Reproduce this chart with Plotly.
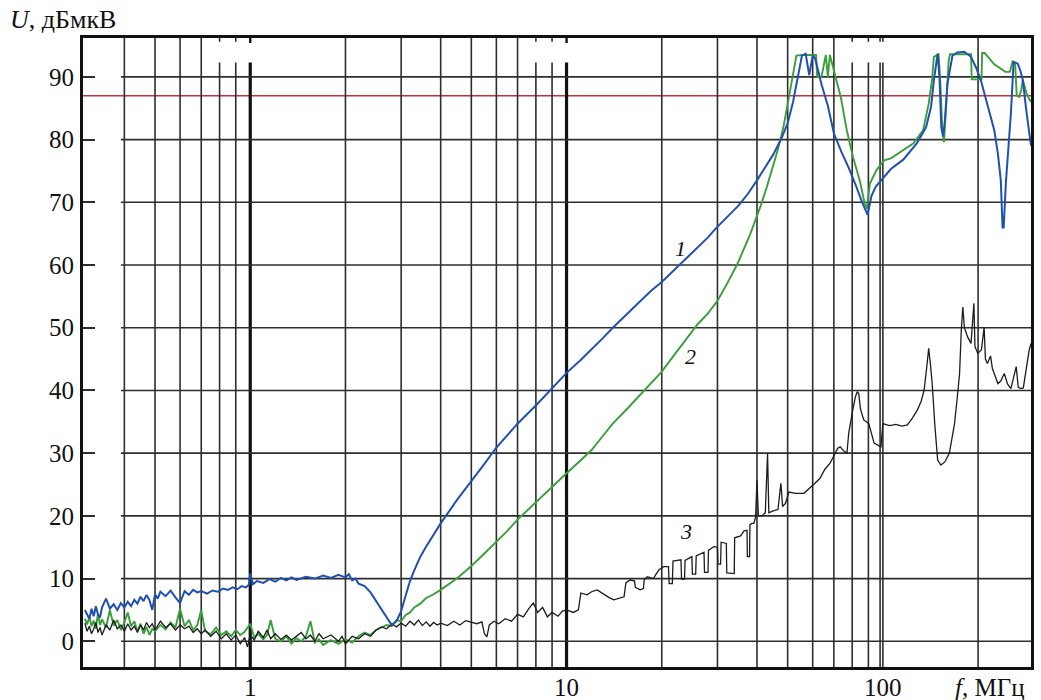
import math
import plotly.graph_objects as go

# ---- measured series: frequency, MHz / level, dBµV ----
f1 = [0.30, 0.305, 0.31, 0.315, 0.32, 0.325, 0.33, 0.335, 0.34, 0.35, 0.36, 0.37, 0.38, 0.39,
      0.40, 0.41, 0.42, 0.43, 0.44, 0.45, 0.46, 0.47, 0.48, 0.49, 0.50, 0.51, 0.52, 0.54, 0.56,
      0.58, 0.60, 0.62, 0.64, 0.66, 0.68, 0.70, 0.73, 0.76, 0.79, 0.82, 0.85, 0.88, 0.91, 0.94,
      0.97, 0.99, 1.0, 1.02, 1.05, 1.1, 1.15, 1.2, 1.25, 1.3, 1.35, 1.4, 1.5, 1.6, 1.7, 1.8,
      1.9, 2.0, 2.05, 2.1, 2.15, 2.2, 2.3, 2.4, 2.5, 2.6, 2.7, 2.8, 2.9, 3.0, 3.1, 3.2, 3.3,
      3.45, 3.6, 3.8, 4.0, 4.5, 5.0, 5.5, 6.0, 7.0, 8.0, 9.0, 10, 11, 12, 13, 14, 15.5, 17,
      18.5, 20, 21.5, 23, 24.5, 26, 28, 29.6, 31.5, 33, 35, 37.5, 40, 42.5, 45, 48, 50, 52,
      54, 55.5, 57, 58.5, 60, 61, 62, 64, 67, 70, 74, 78, 82, 86, 89.5,
      92, 95, 99, 106, 116, 128, 137, 142, 145, 149, 151, 153, 155, 157, 160, 166, 172, 181,
      190, 197, 204, 214, 225, 231, 236, 239, 241, 245, 248, 254, 259, 267, 272, 277, 284,
      290, 294]
u1 = [5.0, 4.2, 3.6, 5.2, 4.0, 5.6, 4.3, 3.8, 5.4, 6.8, 5.2, 5.9, 5.0, 6.1,
      5.4, 6.3, 5.6, 6.6, 6.0, 7.1, 6.4, 7.4, 6.6, 5.0, 7.5, 6.8, 7.9, 7.2, 8.1,
      7.0, 6.1, 8.0, 7.4, 8.2, 7.8, 8.0, 7.6, 8.1, 7.9, 8.4, 8.2, 8.6, 8.3, 8.8,
      8.6, 9.0, 10.8, 9.1, 9.6, 9.3, 9.9, 9.5, 10.1, 9.7, 10.2, 9.8, 10.3, 10.0, 10.5, 10.1,
      10.6, 10.2, 10.7, 9.7, 10.0, 9.2, 8.8, 7.8, 6.4, 5.0, 3.7, 2.6, 3.2, 4.8, 7.3, 9.6, 11.3,
      13.5, 15.1, 17.0, 18.8, 22.5, 25.5, 28.3, 30.9, 34.7, 37.6, 40.3, 42.8, 44.7, 46.5, 48.3,
      50.0, 52.2, 54.2,
      55.9, 57.3, 58.8, 60.2, 61.5, 62.8, 64.4, 65.8, 67.1, 68.2, 69.5, 71.4, 73.5, 75.5, 77.6,
      80.4, 82.6, 86.0,
      90.5, 93.4, 93.7, 90.3, 93.4, 93.0, 91.6, 88.8, 85.4, 81.0, 78.0, 75.5, 72.8, 70.0, 68.0,
      71.0, 72.5, 73.6, 75.3, 76.8, 79.4, 82.0, 85.2, 89.5, 93.7, 90.0, 82.0, 80.5, 83.0, 88.9,
      93.4, 93.9, 94.0,
      93.2, 91.5, 89.5, 85.7, 81.5, 77.8, 73.5, 66.0, 66.0, 73.3, 77.2, 84.2, 92.4, 92.1, 91.0,
      89.5, 84.7, 81.0, 79.0]

f2 = [0.30, 0.305, 0.31, 0.315, 0.32, 0.325, 0.33, 0.335, 0.34, 0.35, 0.36, 0.37, 0.38, 0.39,
      0.40, 0.41, 0.42, 0.43, 0.44, 0.45, 0.46, 0.47, 0.48, 0.49, 0.50, 0.52, 0.54, 0.56, 0.58,
      0.60, 0.62, 0.64, 0.66, 0.68, 0.70, 0.72, 0.75, 0.78, 0.81, 0.84, 0.87, 0.90, 0.93, 0.96,
      1.0, 1.03, 1.06, 1.1, 1.13, 1.16, 1.2, 1.25, 1.3, 1.35, 1.4, 1.45, 1.5, 1.55, 1.6, 1.65,
      1.7, 1.8, 1.9, 2.0, 2.1, 2.2, 2.3, 2.4, 2.5, 2.6, 2.7, 2.8, 2.9, 3.0, 3.1, 3.2, 3.3, 3.45,
      3.6, 3.8, 4.0, 4.5, 5.0, 5.5, 6.0, 6.5, 7.0, 8.0, 9.0, 10, 11, 12, 13, 14, 15.5, 17, 18.5,
      20, 22, 24, 26, 28, 30, 32, 34.7, 38, 41,
      43, 46.5, 48.5, 50.5, 52, 53.3, 56, 59, 61.5, 62, 64, 66, 67, 68, 70, 73.6, 76.9, 80.5,
      84.5, 87.6, 89, 91, 95.4, 101, 106, 114, 125, 134, 139.6, 143, 145, 150, 152, 154, 156,
      158, 161.5, 163, 175, 190, 191, 205, 206, 210, 225, 244, 252, 257, 262, 265, 270, 274,
      277, 284, 290, 294]
u2 = [3.6, 2.7, 3.9, 2.4, 3.3, 2.0, 4.4, 2.6, 3.5, 2.2, 5.0, 2.5, 3.4, 1.8,
      3.0, 4.6, 2.4, 3.2, 1.6, 2.8, 1.2, 2.3, 1.0, 2.0, 1.6, 2.6, 1.9, 3.0, 2.2,
      5.2, 2.4, 3.4, 1.8, 2.6, 5.0, 1.6, 1.1, 2.2, 1.0, 1.6, 0.8, 1.8, 1.0, 1.5,
      2.8, 0.6, 1.2, 0.3, 1.0, 3.4, 0.4, 0.0, 0.8, -0.4, 0.5, 0.0, 0.8, 3.2, -0.2, 0.3,
      -0.6, 0.2, -0.4, 0.3, -0.2, 0.8, 1.4, 1.0, 1.8, 2.2, 2.6, 2.4, 3.4, 3.2, 4.2, 4.6, 5.4, 6.0,
      6.9, 7.5, 8.2, 10.0, 12.0, 14.0, 15.9, 17.6, 19.4, 22.2, 24.6, 26.8, 28.7, 30.5, 32.7,
      34.7, 37.0, 39.2, 41.2,
      43.0, 45.8, 48.4, 50.6, 52.3, 54.3, 56.8, 60.2, 64.8, 69.3,
      72.5, 78.3, 82.0, 86.8, 90.5, 93.4, 93.5, 93.5, 93.5, 90.0, 90.0, 93.5, 90.0, 93.5, 91.0,
      86.8, 81.5, 77.2,
      73.5, 69.8, 69.0, 73.0, 75.1, 76.7, 77.0, 78.0, 79.4, 81.5, 85.7, 89.5, 93.2, 93.6, 89.0,
      82.0, 79.6,
      84.0, 92.6, 93.6, 93.6, 93.6, 89.6, 89.6, 93.8, 93.8, 92.0, 90.8, 90.8, 92.4, 92.0, 87.0,
      86.8, 88.0,
      89.5, 87.5, 86.5, 86.0]

f3 = [0.30, 0.305, 0.31, 0.315, 0.32, 0.325, 0.33, 0.335, 0.34, 0.35, 0.36, 0.37, 0.38, 0.39,
      0.40, 0.41, 0.42, 0.43, 0.44, 0.45, 0.46, 0.47, 0.48, 0.49, 0.50, 0.52, 0.54, 0.56, 0.58,
      0.60, 0.62, 0.64, 0.66, 0.68, 0.70, 0.72, 0.75, 0.78, 0.81, 0.84, 0.87, 0.90, 0.93, 0.96,
      0.98, 1.0, 1.03, 1.06, 1.1, 1.13, 1.16, 1.2, 1.25, 1.3, 1.35, 1.4, 1.45, 1.5, 1.55, 1.6,
      1.65, 1.7, 1.8, 1.9, 1.95, 2.0, 2.1, 2.2, 2.3, 2.4, 2.5, 2.6, 2.7, 2.8, 2.9, 3.0, 3.1,
      3.2, 3.3, 3.4, 3.5, 3.6, 3.7, 3.8, 3.9, 4.0, 4.2, 4.4, 4.6, 4.8, 5.0, 5.2, 5.4, 5.5, 5.6,
      5.7, 5.9, 6.1, 6.4, 6.7, 7.0, 7.3, 7.6, 7.85, 8.1, 8.4, 8.7, 9.0, 9.4, 9.7, 10.0, 10.5,
      10.9, 11.1, 11.6, 12.0, 12.5, 13.2, 13.6, 14.1, 14.8, 15.2, 15.4, 15.9, 16.4, 16.5, 17.1,
      17.5, 17.6, 18.0, 18.8, 19.6, 20.3, 21.0, 21.1, 21.6, 21.7, 23.0, 23.1, 23.6, 23.7, 24.9,
      25.0, 25.6, 25.7, 27.2, 27.3, 28.0, 28.1, 29.2, 30.0, 30.1, 30.7, 30.8, 32.0, 32.1, 33.9,
      34.0, 35.5, 36.4, 37.2, 37.3, 37.9, 38.0, 38.5, 39.1, 39.6, 40.0, 40.4, 41.5,
      42.5, 43.2, 43.6, 45.0, 46.6, 47.6, 48.2, 49.2, 50.5, 53.0, 56.3, 59.5, 61.0, 63.3, 65.5,
      68.1, 70.0, 72.0, 73.3, 75.0, 77.0, 78.0, 80.0, 81.9, 83.0, 83.9, 85.0, 87.0, 90.3, 92.0,
      93.8, 98.6, 99.5, 100, 105, 110, 115, 119.5, 124, 128.6, 132, 135, 137.5, 139.6, 141.5,
      143.2, 146, 149, 152.5, 157, 162.3, 168.5, 172, 174.8, 177, 179, 181, 185.5, 190, 194,
      195.5, 199.6, 205, 209, 211, 214, 219, 222, 231, 236, 242, 248, 254, 259, 264, 268, 273,
      278, 286, 290, 294]
u3 = [2.9, 1.6, 2.4, 1.2, 2.0, 3.0, 1.4, 2.2, 1.0, 2.6, 1.8, 3.4, 2.0, 2.6,
      1.6, 2.8, 1.8, 2.4, 1.4, 2.6, 1.8, 3.0, 2.2, 2.8, 1.8, 3.2, 2.2, 2.8, 1.8,
      2.6, 2.0, 2.4, 1.4, 2.0, 1.2, 1.8, 0.8, 1.6, 0.4, 1.2, 0.2, 1.0, -0.4, 0.6,
      -0.9, 1.0, 0.2, 1.6, 0.6, 1.8, 0.4, 1.2, 0.3, 1.0, 0.2, 0.8, 1.4, 0.4, 1.0, 0.0,
      1.2, 0.4, 1.0, 0.0, 0.8, -0.4, 0.8, 0.4, 1.2, 0.8, 1.8, 2.3, 2.0, 2.8, 2.3, 2.9, 2.4,
      3.2, 2.6, 3.4, 2.5, 3.1, 2.4, 3.0, 2.6, 2.9, 2.5, 3.2, 2.6, 3.3, 3.0, 2.8, 3.1, 1.2, 0.7,
      2.6, 3.2, 2.8, 3.6, 3.2, 4.3, 3.9, 5.2, 6.1, 4.6, 5.4, 3.9, 4.6, 4.0, 4.8, 5.0, 4.6,
      5.0, 7.7, 7.4, 7.9, 8.2, 7.4, 7.0, 6.6, 6.9, 7.1, 9.3, 9.8, 9.6, 8.6, 8.2,
      8.4, 9.8, 10.3, 10.0, 11.4, 11.9, 11.9, 9.2, 9.2, 12.8, 13.0, 9.9, 9.9, 12.9, 13.5,
      10.7, 10.7, 13.6, 14.2, 11.0, 11.0, 14.5, 15.1, 15.0, 12.3, 12.3, 15.8, 15.6, 10.9, 10.8,
      16.5, 16.8, 17.6, 17.7, 13.5, 13.5, 18.6, 18.8, 18.8, 19.8, 25.7, 20.0, 20.0,
      20.5, 30.0, 20.5, 20.8, 21.0, 25.2, 21.5, 22.0, 23.8, 23.6, 23.6, 24.6, 25.2, 26.0, 27.4,
      28.4, 29.6, 30.8, 31.0, 30.4, 30.0, 33.2, 36.4, 39.0, 39.8, 39.5, 37.0, 35.3, 34.7, 33.0,
      31.6, 31.0, 33.0, 34.7, 34.4, 34.6, 34.3, 34.5, 35.6, 36.9, 38.2, 40.0, 43.5, 46.7, 44.0,
      41.1, 34.5, 28.9, 28.1, 28.6, 30.0, 34.7, 39.0, 42.7, 49.6, 53.3, 50.0, 48.5, 47.5, 53.9,
      47.0, 45.9, 46.5, 50.1, 45.0, 44.3, 45.5, 43.5, 41.1, 41.5, 42.7, 41.0, 40.3, 42.0, 43.8,
      40.5, 40.3,
      40.4, 44.8, 46.4, 47.5]

limit_level = 87.0
y_ticks = [0, 10, 20, 30, 40, 50, 60, 70, 80, 90]
x_ticks = [1, 10, 100]
x_tick_text = ["1", "10", "100"]

# decade grid; the lines marked "short" stop below the top edge
grid_full = [0.4, 0.5, 0.6, 0.7, 2, 3, 4, 5, 6, 7, 20, 30, 40, 50, 60, 70, 200]
grid_short = [0.8, 0.9, 8, 9, 80, 90, 98, 100]
grid_heavy = [1, 10]

X_RANGE = (0.296, 294.0)
Y_RANGE = (-4.1, 96.2)
SHORT_TOP = 92.3
SERIF = "Liberation Serif, Times New Roman, serif"
GRID = "#2e2e2e"

fig = go.Figure()
fig.add_trace(go.Scatter(x=f2, y=u2, mode="lines", line=dict(color="#3a9e3a", width=1.9),
                         name="2"))
fig.add_trace(go.Scatter(x=f3, y=u3, mode="lines", line=dict(color="#1c1c1c", width=1.3),
                         name="3"))
fig.add_trace(go.Scatter(x=f1, y=u1, mode="lines", line=dict(color="#2150b3", width=2.0),
                         name="1"))

lx = math.log10
shapes = []


def vline(g, y0, y1, width, color=GRID):
    shapes.append(dict(type="line", xref="x", yref="y", x0=g, x1=g, y0=y0, y1=y1,
                       line=dict(color=color, width=width), layer="below"))


for g in grid_full:
    vline(g, Y_RANGE[0], Y_RANGE[1], 1.6)
for g in grid_short:
    vline(g, Y_RANGE[0], SHORT_TOP, 1.6)
    vline(g, 95.6, Y_RANGE[1], 1.6)
for g in grid_heavy:
    vline(g, Y_RANGE[0], SHORT_TOP, 3.2, "#111")
    vline(g, 95.4, Y_RANGE[1], 2.4, "#111")
for v in y_ticks:
    shapes.append(dict(type="line", xref="x", yref="y", x0=0.39, x1=X_RANGE[1],
                       y0=v, y1=v, line=dict(color=GRID, width=1.6), layer="below"))
# limit level
shapes.append(dict(type="line", xref="paper", yref="y", x0=0, x1=1, y0=limit_level,
                   y1=limit_level, line=dict(color="#c4303a", width=1.4), layer="below"))

annotations = [
    dict(x=lx(23.0), y=62.6, xref="x", yref="y", text="<i>1</i>", showarrow=False,
         font=dict(family=SERIF, size=22, color="#111")),
    dict(x=lx(24.7), y=45.4, xref="x", yref="y", text="<i>2</i>", showarrow=False,
         font=dict(family=SERIF, size=22, color="#111")),
    dict(x=lx(23.8), y=17.5, xref="x", yref="y", text="<i>3</i>", showarrow=False,
         font=dict(family=SERIF, size=22, color="#111")),
    dict(x=-0.079, y=1.029, xref="paper", yref="paper", xanchor="left", yanchor="middle",
         text="<i>U</i>, дБмкВ", showarrow=False, font=dict(family=SERIF, size=26, color="#111")),
    dict(x=0.957, y=-0.033, xref="paper", yref="paper", xanchor="center", yanchor="middle",
         text="<i>f</i>, МГц", showarrow=False, font=dict(family=SERIF, size=25, color="#111")),
]

fig.update_layout(
    width=1041, height=700,
    margin=dict(l=83, r=10, t=38, b=33, autoexpand=False),
    paper_bgcolor="white", plot_bgcolor="white",
    showlegend=False,
    shapes=shapes, annotations=annotations,
    font=dict(family=SERIF, size=25, color="#111"),
)
fig.update_xaxes(type="log", range=[lx(X_RANGE[0]), lx(X_RANGE[1])], automargin=False,
                 tickvals=x_ticks, ticktext=x_tick_text, ticks="", showgrid=False,
                 ticklabelstandoff=-4,
                 zeroline=False, showline=True, linecolor="#111", linewidth=3, mirror=True,
                 tickfont=dict(family=SERIF, size=25, color="#111"))
fig.update_yaxes(range=list(Y_RANGE), tickvals=y_ticks, ticks="inside", ticklen=12,
                 automargin=False, ticklabelstandoff=1,
                 tickwidth=1.6, tickcolor=GRID, showgrid=False, zeroline=False, showline=True,
                 linecolor="#111", linewidth=3, mirror=True,
                 tickfont=dict(family=SERIF, size=25, color="#111"))

fig.write_html("out.html")
